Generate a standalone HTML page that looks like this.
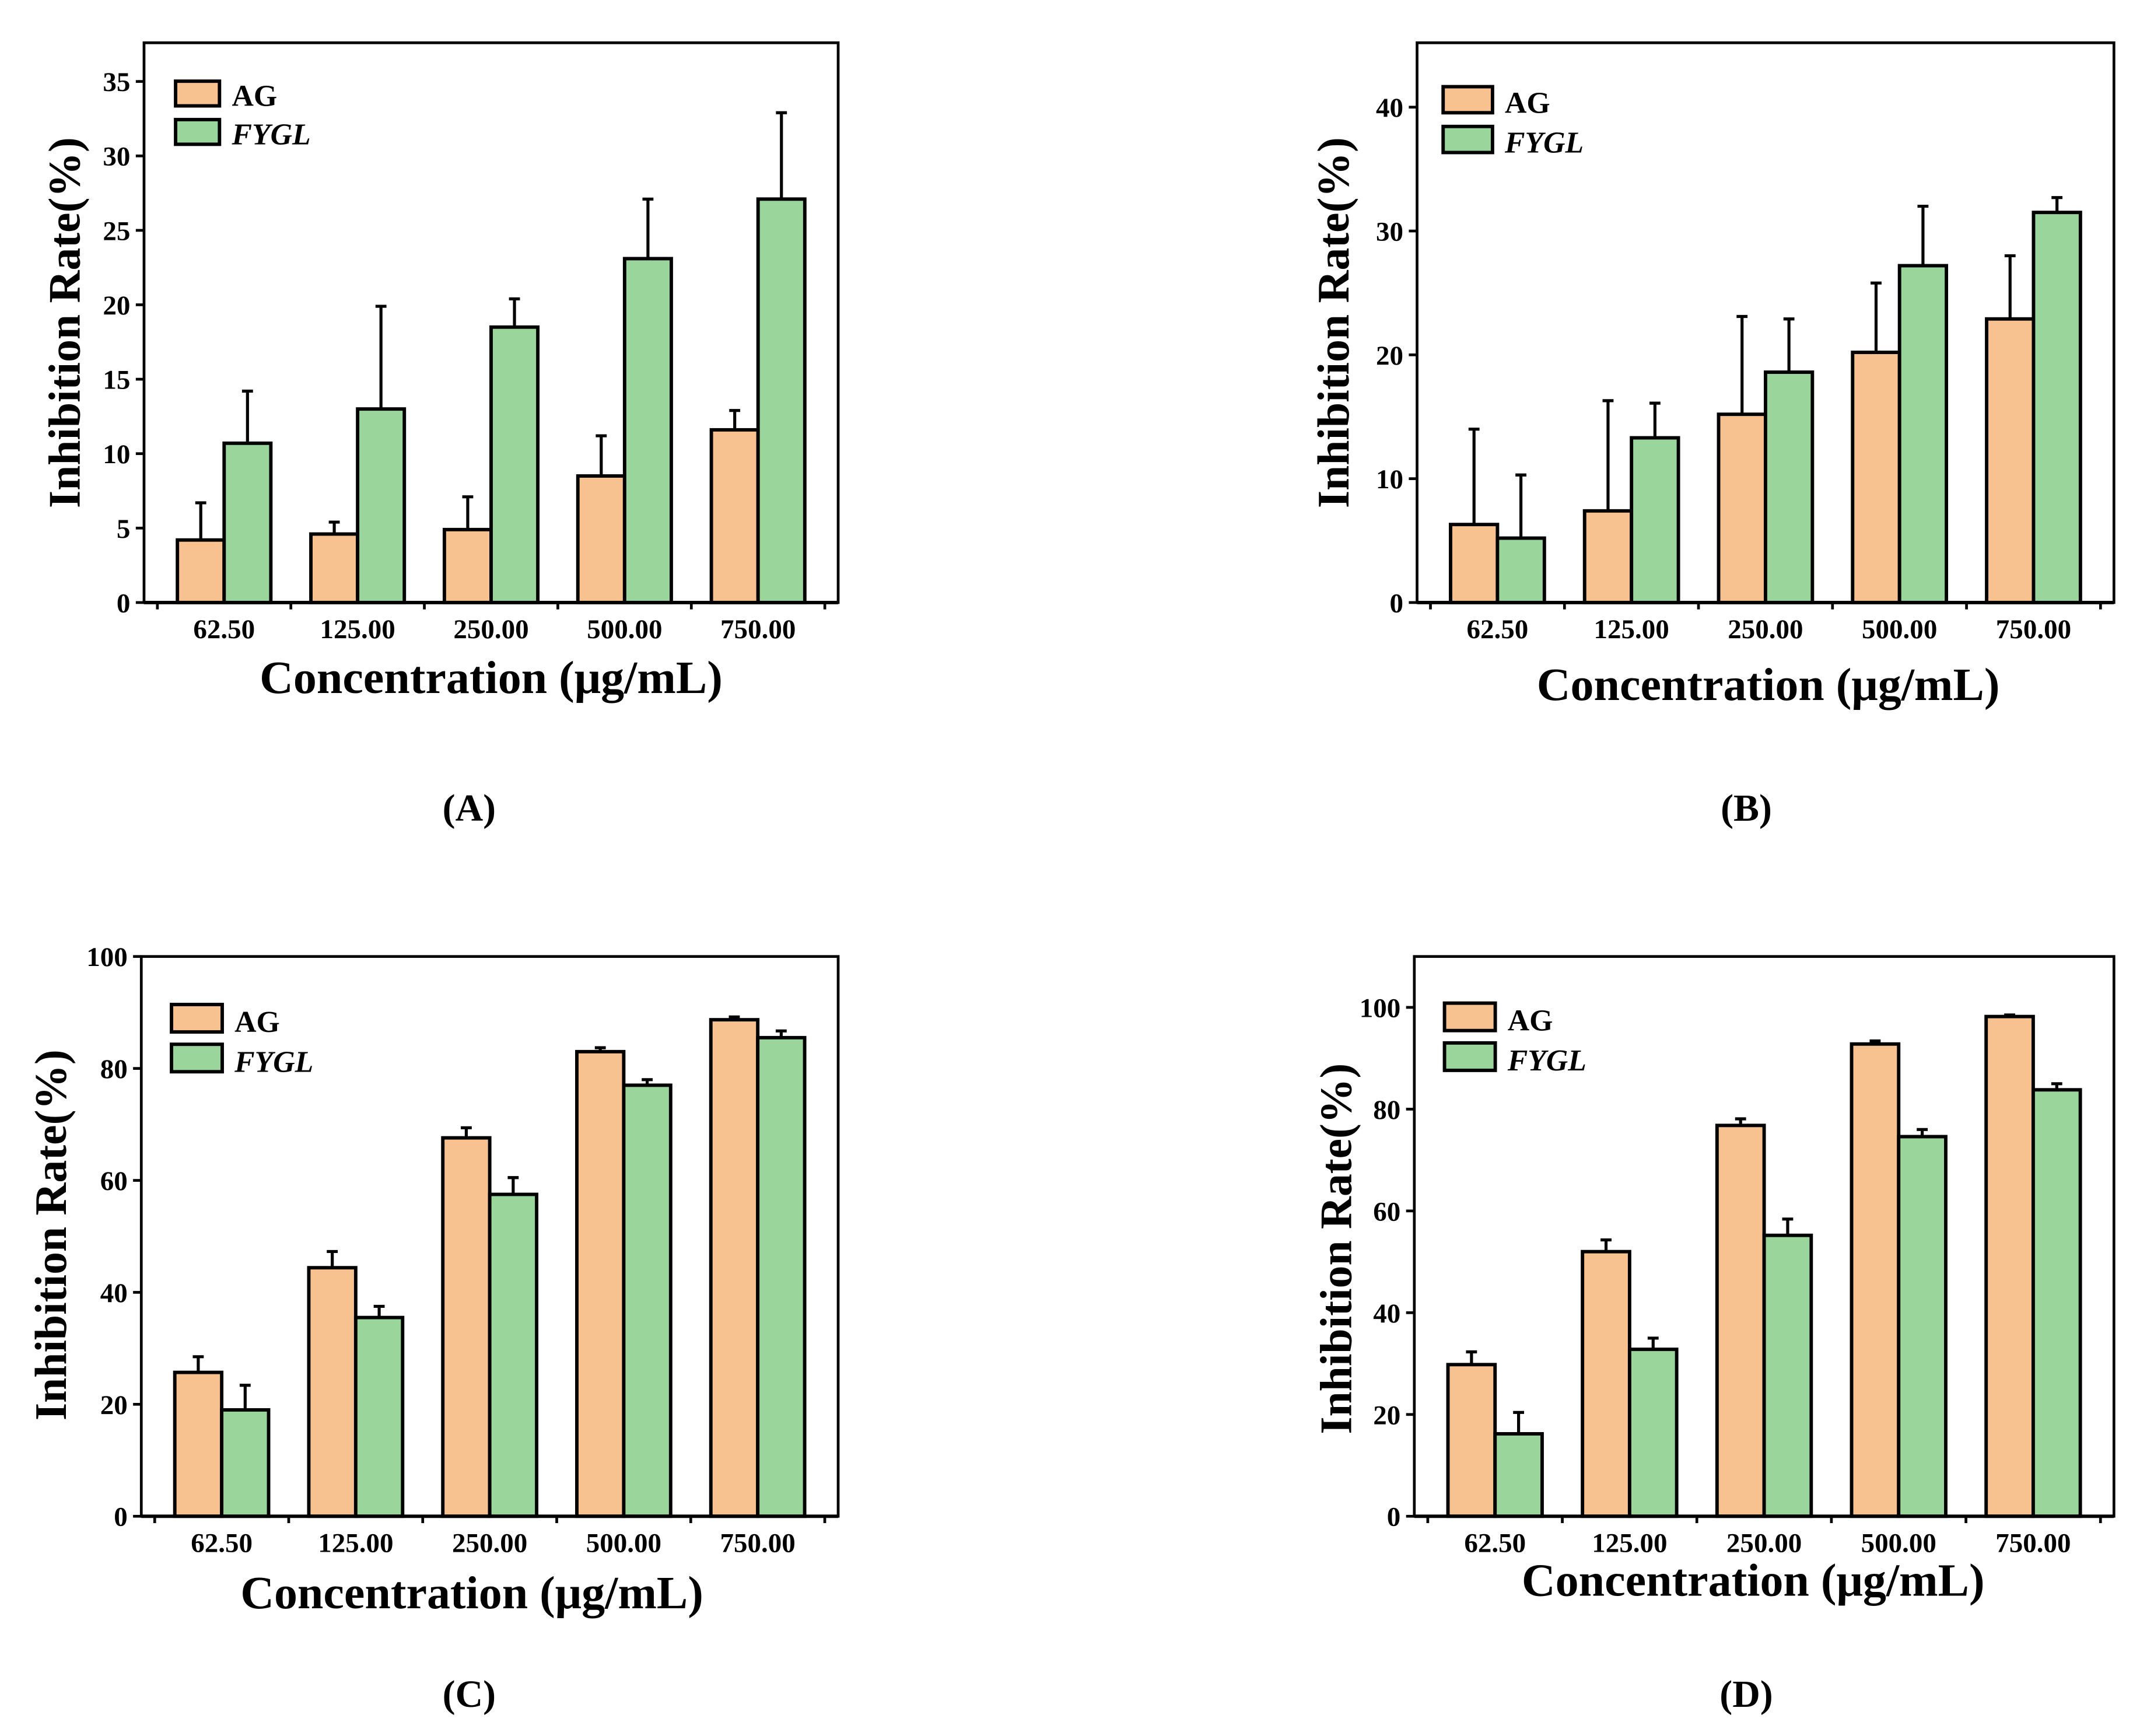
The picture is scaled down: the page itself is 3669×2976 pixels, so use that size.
<!DOCTYPE html>
<html><head><meta charset="utf-8"><style>
html,body{margin:0;padding:0;background:#fff;}
svg{display:block;}
text{font-family:"Liberation Serif",serif;font-weight:bold;fill:#000;}
</style></head><body>
<svg id="fig" width="3669" height="2976" viewBox="0 0 1560 1265" xmlns="http://www.w3.org/2000/svg"></svg>
<script>
const categories = ["62.50","125.00","250.00","500.00","750.00"];
const aAG = [4.2,4.6,4.9,8.5,11.6];
const aAGerr = [6.7,5.4,7.1,11.2,12.9];
const aFY = [10.7,13.0,18.5,23.1,27.1];
const aFYerr = [14.2,19.9,20.4,27.1,32.9];
const aTicks = [0,5,10,15,20,25,30,35];
const bAG = [6.3,7.4,15.2,20.2,22.9];
const bAGerr = [14.0,16.3,23.1,25.8,28.0];
const bFY = [5.2,13.3,18.6,27.2,31.5];
const bFYerr = [10.3,16.1,22.9,32.0,32.7];
const bTicks = [0,10,20,30,40];
const cAG = [25.7,44.4,67.6,83.0,88.7];
const cAGerr = [28.5,47.3,69.4,83.7,89.2];
const cFY = [19.0,35.5,57.5,77.0,85.5];
const cFYerr = [23.4,37.5,60.5,78.0,86.7];
const cTicks = [0,20,40,60,80,100];
const dAG = [29.8,52.0,76.8,92.8,98.2];
const dAGerr = [32.3,54.3,78.1,93.4,98.5];
const dFY = [16.2,32.8,55.2,74.6,83.8];
const dFYerr = [20.4,35.0,58.4,76.0,85.0];
const dTicks = [0,20,40,60,80,100];

const NS="http://www.w3.org/2000/svg";
const svg=document.getElementById('fig');
function mk(tag,attrs,parent){const e=document.createElementNS(NS,tag);for(const k in attrs)e.setAttribute(k,attrs[k]);(parent||svg).appendChild(e);return e;}

function panel(id,L,R,T,B,ymax,ag,agE,fy,fyE,ticks,leg,ytx,yty,xtx,xty,lab){
  const g=mk('g',{});
  
  
  const y=v=>B-(v/ymax)*(B-T);
  const gw=(R-L)/5.2;
  const x0=L+gw*0.6;
  const cx=i=>x0+i*gw;
  const bw=gw*0.35;
  const box=mk('rect',{x:L,y:T,width:R-L,height:B-T,fill:'none',stroke:'#000','stroke-width':2},g);
  
  
  ticks.forEach(t=>{
    const ln=mk('line',{x1:L-6,x2:L,y1:y(t),y2:y(t),stroke:'#000','stroke-width':2},g);
    
    
    const tx=mk('text',{x:L-10,y:y(t)+7,'text-anchor':'end','font-size':20},g);
    
    
    tx.textContent=t;
  });
  for(let i=0;i<=5;i++){
    const xx=cx(i)-gw/2;
    const ln=mk('line',{x1:xx,x2:xx,y1:B,y2:B+5,stroke:'#000','stroke-width':2},g);
    
    
  }
  categories.forEach((c,i)=>{
    const tx=mk('text',{x:cx(i),y:B+26,'text-anchor':'middle','font-size':20},g);
    
    
    tx.textContent=c;
    [[ag,agE,'#F8C290',cx(i)-bw,'ag'],[fy,fyE,'#9AD59C',cx(i),'fygl']].forEach(([v,e,col,bx,nm])=>{
      const r=mk('rect',{x:bx,y:y(v[i]),width:bw,height:B-y(v[i]),fill:col,stroke:'#000','stroke-width':2.5},g);
      
      
      const mx=bx+bw/2;
      const er=mk('path',{d:`M${mx},${y(v[i])} V${y(e[i])} M${mx-4},${y(e[i])} H${mx+4}`,stroke:'#000','stroke-width':2.2,fill:'none'},g);
      
      
    });
  });
  const ax=mk('line',{x1:L,x2:R,y1:B,y2:B,stroke:'#000','stroke-width':2.5},g);
  
  
  [['AG','#F8C290',0,'normal'],['FYGL','#9AD59C',1,'italic']].forEach(([n,col,k,st])=>{
    const sw=mk('rect',{x:leg[0],y:leg[1]+k*leg[4],width:leg[2],height:leg[3],fill:col,stroke:'#000','stroke-width':2.5},g);
    
    
    const t=mk('text',{x:leg[0]+leg[2]+9,y:leg[1]+k*leg[4]+leg[3],'font-size':22,'font-style':st},g);
    
    
    t.textContent=n;
  });
  const yt=mk('text',{x:ytx,y:yty,'text-anchor':'middle','font-size':33,transform:`rotate(-90 ${ytx} ${yty})`},g);
  
  
  yt.textContent='Inhibition Rate(%)';
  const xt=mk('text',{x:xtx,y:xty,'text-anchor':'middle','font-size':34},g);
  
  
  xt.textContent='Concentration (μg/mL)';
  const pl=mk('text',{x:lab[0],y:lab[1],'text-anchor':'middle','font-size':28,'font-weight':'normal'},g);
  
  
  pl.innerHTML='(<tspan font-weight="bold">'+id+'</tspan>)';
}
panel('A',105,611,31,439,37.6,aAG,aAGerr,aFY,aFYerr,aTicks,[128,59,32,18,28],58,235,358,505,[342,598]);
panel('B',1033,1541,31,439,45.2,bAG,bAGerr,bFY,bFYerr,bTicks,[1052,63,36,19,29],983,235,1289,510,[1273,598]);
panel('C',103,611,697,1105,100,cAG,cAGerr,cFY,cFYerr,cTicks,[125,732,37,20,29],48,900,344,1172,[342,1244]);
panel('D',1031,1541,697,1105,110,dAG,dAGerr,dFY,dFYerr,dTicks,[1053,731,37,20,29],985,910,1278,1163,[1273,1244]);
</script>
</body></html>
